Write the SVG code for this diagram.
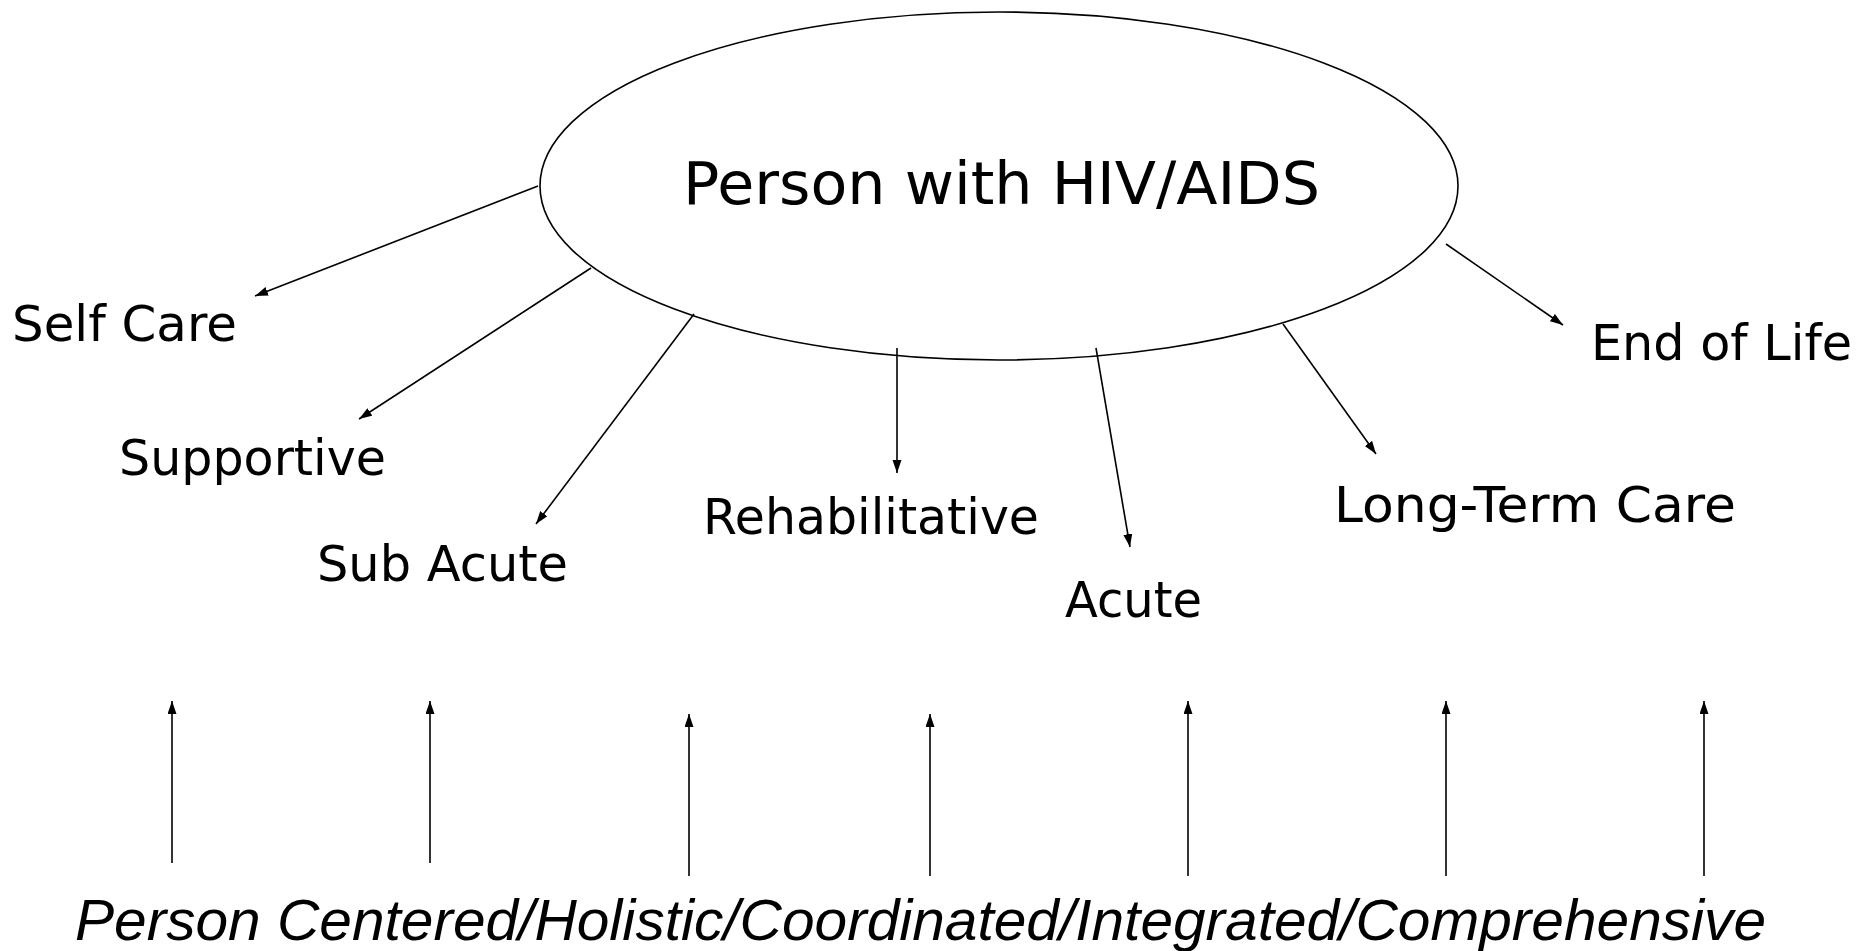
<svg xmlns="http://www.w3.org/2000/svg" width="1862" height="951" viewBox="0 0 1862 951">
<style>
.lbl{font-family:"DejaVu Sans","Verdana",sans-serif;font-size:49px;fill:#000}
.ctr{font-family:"DejaVu Sans","Verdana",sans-serif;font-size:59px;fill:#000}
.bot{font-family:"Liberation Sans",Arial,sans-serif;font-style:italic;font-size:57px;fill:#000}
.arr{stroke:#000;stroke-width:1.6;fill:none;marker-end:url(#ah)}
</style>
<defs>
<marker id="ah" markerUnits="userSpaceOnUse" markerWidth="14" markerHeight="10" refX="13" refY="4.5" orient="auto">
<path d="M0,0 L13,4.5 L0,9 z" fill="#000"/>
</marker>
</defs>
<rect width="1862" height="951" fill="#fff"/>
<g id="center">
<ellipse cx="999" cy="186" rx="459" ry="174" fill="none" stroke="#000" stroke-width="1.6"/>
<text class="ctr" x="683" y="204" textLength="637" lengthAdjust="spacingAndGlyphs">Person with HIV/AIDS</text>
</g>
<g id="self-care"><text class="lbl" x="12" y="341" textLength="225" lengthAdjust="spacingAndGlyphs">Self Care</text></g>
<g id="supportive"><text class="lbl" x="119" y="475" textLength="267" lengthAdjust="spacingAndGlyphs">Supportive</text></g>
<g id="sub-acute"><text class="lbl" x="317" y="581" textLength="251" lengthAdjust="spacingAndGlyphs">Sub Acute</text></g>
<g id="rehabilitative"><text class="lbl" x="703" y="534" textLength="336" lengthAdjust="spacingAndGlyphs">Rehabilitative</text></g>
<g id="acute"><text class="lbl" x="1065" y="617" textLength="137" lengthAdjust="spacingAndGlyphs">Acute</text></g>
<g id="long-term"><text class="lbl" x="1334" y="522" textLength="402" lengthAdjust="spacingAndGlyphs">Long-Term Care</text></g>
<g id="end-of-life"><text class="lbl" x="1591" y="360" textLength="261" lengthAdjust="spacingAndGlyphs">End of Life</text></g>
<g id="bottom"><text class="bot" x="75" y="940" textLength="1691" lengthAdjust="spacingAndGlyphs">Person Centered/Holistic/Coordinated/Integrated/Comprehensive</text></g>
<g id="connectors">
<line class="arr" x1="538" y1="186" x2="255" y2="296"/>
<line class="arr" x1="591" y1="268" x2="359" y2="419"/>
<line class="arr" x1="694" y1="314" x2="536" y2="524"/>
<line class="arr" x1="897" y1="348" x2="897" y2="473"/>
<line class="arr" x1="1096" y1="348" x2="1130" y2="547"/>
<line class="arr" x1="1283" y1="324" x2="1376" y2="454"/>
<line class="arr" x1="1446" y1="244" x2="1563" y2="325"/>
<line class="arr" x1="172" y1="863" x2="172" y2="701"/>
<line class="arr" x1="430" y1="863" x2="430" y2="701"/>
<line class="arr" x1="689" y1="876" x2="689" y2="714"/>
<line class="arr" x1="930" y1="876" x2="930" y2="714"/>
<line class="arr" x1="1188" y1="876" x2="1188" y2="701"/>
<line class="arr" x1="1446" y1="876" x2="1446" y2="701"/>
<line class="arr" x1="1704" y1="876" x2="1704" y2="701"/>
</g>
</svg>
